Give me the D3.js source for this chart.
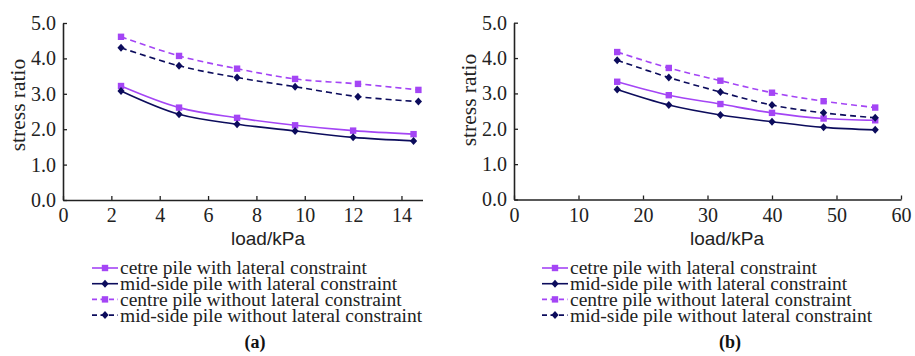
<!DOCTYPE html>
<html>
<head>
<meta charset="utf-8">
<script src="https://cdn.jsdelivr.net/npm/d3@7"></script>
<style>
  body { margin: 0; background: #fff; }
  svg { display: block; }
  .serif { font-family: "Liberation Serif", "Times New Roman", serif; }
  .sans { font-family: "Liberation Sans", Arial, sans-serif; }
</style>
</head>
<body>
<svg id="chart" width="915" height="356"></svg>
<script>
// panel (a): load in kPa
const loadWithA = [2.4, 4.8, 7.2, 9.6, 12.0, 14.5];
const loadWithoutA = [2.4, 4.8, 7.2, 9.6, 12.2, 14.7];
const centreWithA = [3.22, 2.61, 2.32, 2.11, 1.96, 1.86];
const midWithA = [3.08, 2.42, 2.14, 1.95, 1.77, 1.67];
const centreWithoutA = [4.61, 4.07, 3.71, 3.42, 3.28, 3.11];
const midWithoutA = [4.30, 3.79, 3.46, 3.20, 2.92, 2.78];

// panel (b)
const loadB = [16, 24, 32, 40, 48, 56];
const centreWithB = [3.33, 2.95, 2.70, 2.45, 2.29, 2.24];
const midWithB = [3.11, 2.67, 2.39, 2.20, 2.04, 1.97];
const centreWithoutB = [4.17, 3.72, 3.36, 3.02, 2.78, 2.60];
const midWithoutB = [3.94, 3.45, 3.04, 2.67, 2.45, 2.31];

const xTicksA = [0, 2, 4, 6, 8, 10, 12, 14];
const xTicksB = [0, 10, 20, 30, 40, 50, 60];
const yTicks = [0, 1, 2, 3, 4, 5];

const seriesNames = [
  'cetre pile with lateral constraint',
  'mid-side pile with lateral constraint',
  'centre pile without lateral constraint',
  'mid-side pile without lateral constraint'
];

const purple = '#a445f5';
const navy = '#0c0c5c';
const styles = [
  { color: purple, dash: null, marker: 'square' },
  { color: navy, dash: null, marker: 'diamond' },
  { color: purple, dash: '6,4', marker: 'square' },
  { color: navy, dash: '6,4', marker: 'diamond' }
];

const svg = d3.select('#chart');

function marker(sel, type, color) {
  if (type === 'square') {
    sel.append('rect').attr('x', -3.2).attr('y', -3.2).attr('width', 6.4).attr('height', 6.4).attr('fill', color);
  } else {
    sel.append('path').attr('d', 'M0,-4L3.6,0L0,4L-3.6,0Z').attr('fill', color);
  }
}

function drawPanel(opt) {
  const x = d3.scaleLinear().domain(opt.xDomain).range(opt.xRange);
  const y = d3.scaleLinear().domain([0, 5]).range([opt.y0, opt.y5]);
  const g = svg.append('g');

  // axes, ticks pointing inward
  const xAxis = d3.axisBottom(x).tickValues(opt.xTicks).tickSizeInner(-4).tickSizeOuter(0).tickPadding(10);
  const gx = g.append('g').attr('transform', `translate(0,${opt.y0})`).call(xAxis);
  const yAxis = d3.axisLeft(y).tickValues(yTicks).tickSizeInner(-4).tickSizeOuter(0).tickPadding(7)
    .tickFormat(d3.format('.1f'));
  const gy = g.append('g').attr('transform', `translate(${opt.xRange[0]},0)`).call(yAxis);
  [gx, gy].forEach(a => {
    a.attr('font-family', null).attr('font-size', null);
    a.select('.domain').attr('stroke', '#222').attr('stroke-width', 1.6);
    a.selectAll('.tick line').attr('stroke', '#222').attr('stroke-width', 1.3);
    a.selectAll('text').attr('class', 'serif').style('font-size', '20px').attr('fill', '#222');
  });
  gx.selectAll('text').attr('dy', '0.62em');

  const line = d3.line().x(d => x(d[0])).y(d => y(d[1])).curve(d3.curveCatmullRom.alpha(0.5));

  opt.series.forEach((s, i) => {
    const st = styles[i];
    const pts = s.xs.map((v, j) => [v, s.ys[j]]);
    g.append('path').datum(pts).attr('d', line).attr('fill', 'none')
      .attr('stroke', st.color).attr('stroke-width', 1.6)
      .attr('stroke-dasharray', st.dash);
    g.selectAll(null).data(pts).enter().append('g')
      .attr('transform', d => `translate(${x(d[0])},${y(d[1])})`)
      .each(function () { marker(d3.select(this), st.marker, st.color); });
  });

  // y label
  g.append('text').attr('class', 'serif')
    .attr('transform', `translate(${opt.yLabelX},${opt.yLabelY}) rotate(-90)`)
    .attr('text-anchor', 'middle').style('font-size', '21.5px')
    .attr('fill', '#222').text('stress ratio');
  // x label
  g.append('text').attr('class', 'sans').attr('x', opt.xLabelX).attr('y', 245).attr('text-anchor', 'middle')
    .style('font-size', '19px').attr('fill', '#222').text('load/kPa');

  // legend
  const leg = g.append('g');
  if (opt.clip) {
    svg.append('clipPath').attr('id', opt.clip).append('rect')
      .attr('x', 0).attr('y', 250).attr('width', opt.clipRight).attr('height', 80);
    leg.attr('clip-path', `url(#${opt.clip})`);
  }
  seriesNames.forEach((name, i) => {
    const st = styles[i];
    const ly = 268 + i * 15.7;
    const row = leg.append('g').attr('transform', `translate(${opt.legX},${ly})`);
    row.append('line').attr('x1', 0).attr('x2', 26).attr('stroke', st.color).attr('stroke-width', 1.6)
      .attr('stroke-dasharray', st.dash ? '5,3.5' : null);
    const m = row.append('g').attr('transform', 'translate(13,0)');
    marker(m, st.marker, st.color);
    row.append('text').attr('class', 'serif').attr('x', 28).attr('dy', '0.33em')
      .style('font-size', '19.5px').attr('fill', '#222').text(name);
  });

  // caption
  g.append('text').attr('class', 'serif').attr('x', opt.capX).attr('y', 348).attr('text-anchor', 'middle')
    .attr('font-weight', 'bold').style('font-size', '18px')
    .attr('fill', '#111').text(opt.caption);
}

drawPanel({
  xDomain: [0, 14.87], xRange: [63, 422.5], xTicks: xTicksA, y0: 200, y5: 23,
  series: [
    { xs: loadWithA, ys: centreWithA },
    { xs: loadWithA, ys: midWithA },
    { xs: loadWithoutA, ys: centreWithoutA },
    { xs: loadWithoutA, ys: midWithoutA }
  ],
  yLabelX: 25, yLabelY: 105, xLabelX: 268, legX: 92, caption: '(a)', capX: 255,
  clip: 'clipA', clipRight: 423
});

drawPanel({
  xDomain: [0, 60], xRange: [514, 901], xTicks: xTicksB, y0: 199.5, y5: 22.7,
  series: [
    { xs: loadB, ys: centreWithB },
    { xs: loadB, ys: midWithB },
    { xs: loadB, ys: centreWithoutB },
    { xs: loadB, ys: midWithoutB }
  ],
  yLabelX: 476, yLabelY: 100, xLabelX: 727, legX: 542, caption: '(b)', capX: 730
});
</script>
</body>
</html>
